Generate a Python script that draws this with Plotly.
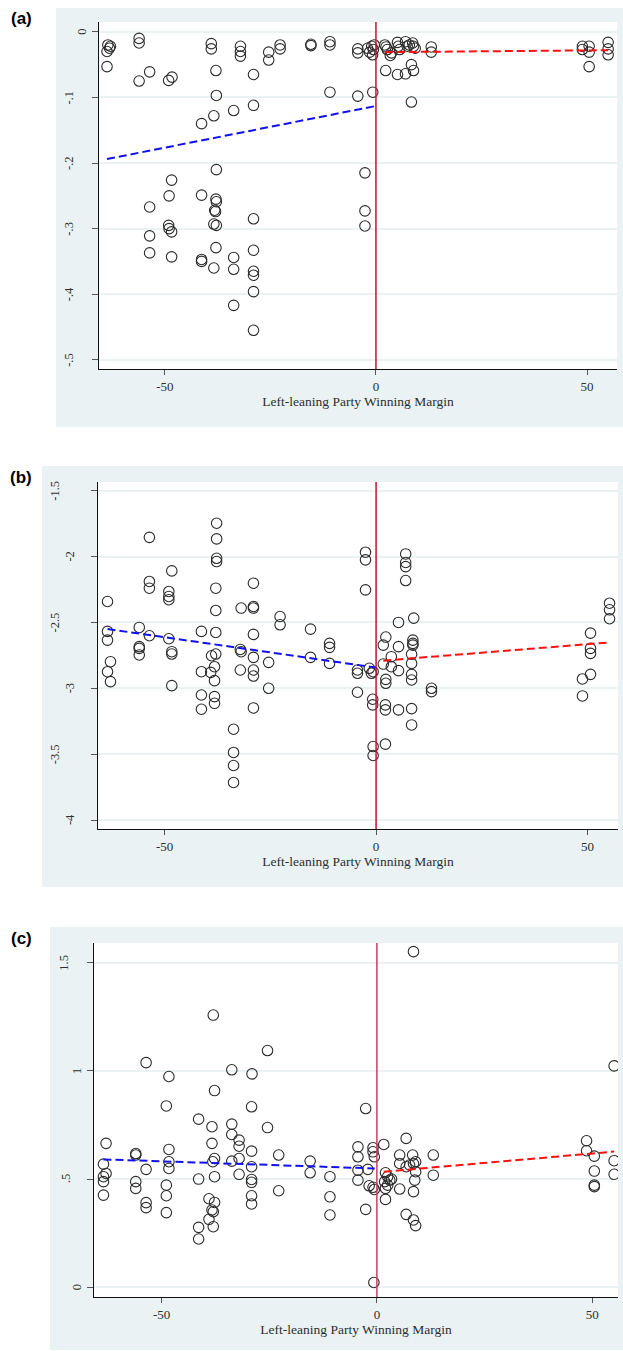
import plotly.graph_objects as go

# ---------------- data ----------------
cutoff = 0

a_x = [-63.5, -62.9, -63.7, -63.1, -63.7, -56.1, -56.1, -56.1, -53.6, -49.1, -48.3, -39.0, -39.0, -41.3,
       -37.9, -37.8, -38.4, -33.7, -32.1, -32.1, -32.1, -29.0, -29.0, -25.4, -25.4, -22.7, -22.7, -15.4,
       -15.4, -10.9, -10.9, -10.9, -4.3, -4.3, -4.3, -0.75, -2.0, -1.0, -0.6, -1.5, -0.8, -0.4,
       2.1, 2.4, 2.7, 3.7, 5.1, 5.6, 5.3, 7.0, 7.4, 7.9, 8.9, 9.3, 8.7, 2.3, 5.1, 7.0, 8.4, 8.9, 8.4, 3.4,
       13.1, 13.1, 48.9, 48.9, 50.5, 50.5, 50.5, 55.0, 55.0, 55.0,
       -37.8, -48.4, -49.0, -41.3, -37.9, -37.8, -38.2, -38.0, -53.6, -29.0, -2.6, -2.6,
       -2.6, -49.1, -49.0, -48.4, -53.6, -38.4, -37.8, -53.6, -48.4, -41.3, -41.3, -37.9, -38.4, -33.7,
       -33.7, -29.0, -29.0, -29.0, -29.0, -33.7, -29.0]
a_y = [-0.020, -0.022, -0.030, -0.025, -0.053, -0.010, -0.017, -0.075, -0.061, -0.074, -0.069, -0.018, -0.026, -0.140,
       -0.059, -0.097, -0.128, -0.120, -0.022, -0.030, -0.037, -0.065, -0.112, -0.031, -0.043, -0.020, -0.026, -0.019,
       -0.021, -0.015, -0.020, -0.092, -0.026, -0.032, -0.098, -0.092, -0.025, -0.022, -0.027, -0.031, -0.035, -0.020,
       -0.020, -0.023, -0.027, -0.032, -0.016, -0.027, -0.022, -0.015, -0.022, -0.020, -0.022, -0.025, -0.017, -0.059,
       -0.065, -0.064, -0.050, -0.059, -0.107, -0.036,
       -0.023, -0.031, -0.022, -0.027, -0.022, -0.031, -0.053, -0.016, -0.026, -0.035,
       -0.210, -0.226, -0.250, -0.249, -0.255, -0.259, -0.272, -0.274, -0.267, -0.285, -0.215, -0.273,
       -0.296, -0.295, -0.300, -0.305, -0.311, -0.293, -0.295, -0.337, -0.343, -0.347, -0.350, -0.329, -0.360, -0.344,
       -0.362, -0.333, -0.365, -0.371, -0.396, -0.417, -0.455]
a_fit_left_x = [-63.7, 0.0]
a_fit_left_y = [-0.194, -0.113]
a_fit_right_x = [2.1, 55.0]
a_fit_right_y = [-0.031, -0.028]

b_x = [-63.5, -63.5, -56.0, -53.6, -53.6, -53.6, -53.6, -48.3, -49.0, -49.0, -49.0, -49.0, -41.3, -37.7,
       -37.7, -37.7, -37.7, -37.9, -37.9, -37.9, -31.9, -29.0, -29.0, -29.0, -29.0, -22.7, -22.7, -15.5,
       -2.5, -2.5, -2.5, 7.0, 7.0, 7.0, 7.0, 8.9, 5.3, 2.3, 50.7, 55.2, 55.2, 55.2,
       -63.5, -62.8, -63.5, -62.8, -56.0, -56.0, -56.0, -48.3, -48.3, -48.3, -41.3, -41.3, -41.3, -38.9,
       -37.9, -39.1, -38.2, -38.2, -38.2, -38.2, -33.7, -33.7, -33.7, -33.7, -32.1, -31.9, -32.1, -29.0,
       -29.0, -29.0, -29.0, -25.4, -25.4, -15.5, -11.0, -11.0, -11.0, -4.4, -4.4, -4.4, -1.6, -1.1, -0.7,
       -0.8, -0.8, -0.7, -0.7, 1.7, 1.7, 2.3, 2.3, 2.2, 2.2, 2.2, 3.6, 3.6, 5.3, 5.3, 5.3, 8.7, 8.7, 8.7,
       8.4, 8.4, 8.4, 8.4, 8.4, 8.4, 13.1, 13.1, 48.8, 48.8, 50.7, 50.7, 50.7]
b_y = [-2.341, -2.568, -2.538, -1.854, -2.189, -2.240, -2.601, -2.109, -2.265, -2.303, -2.328, -2.624, -2.568, -1.747,
       -1.866, -2.013, -2.038, -2.240, -2.409, -2.576, -2.391, -2.379, -2.391, -2.202, -2.591, -2.455, -2.518, -2.551,
       -1.967, -2.025, -2.253, -1.980, -2.045, -2.076, -2.182, -2.467, -2.500, -2.611, -2.581, -2.354, -2.404, -2.472,
       -2.634, -2.798, -2.874, -2.949, -2.684, -2.697, -2.747, -2.722, -2.740, -2.980, -2.874, -3.051, -3.159, -2.753,
       -2.740, -2.879, -2.836, -2.942, -3.063, -3.114, -3.311, -3.487, -3.586, -3.715, -2.705, -2.722, -2.861, -2.765,
       -2.861, -2.907, -3.149, -2.803, -3.000, -2.765, -2.659, -2.689, -2.811, -2.861, -2.886, -3.030, -2.848, -2.886, -2.874,
       -3.083, -3.126, -3.442, -3.510, -2.672, -2.816, -2.932, -2.962, -3.126, -3.164, -3.424, -2.760, -2.836, -2.684,
       -2.866, -3.164, -2.634, -2.659, -2.672,
       -2.742, -2.811, -2.894, -2.937, -3.154, -3.278, -3.000, -3.025, -2.929, -3.058, -2.894, -2.697, -2.735]
b_fit_left_x = [-63.5, 0.0]
b_fit_left_y = [-2.550, -2.843]
b_fit_right_x = [1.7, 55.0]
b_fit_right_y = [-2.790, -2.652]

c_x = [8.5, -38.0, -25.4, -53.6, -48.3, -33.7, -29.0, -37.7, 55.1,
       -48.9, -29.1, -2.6, -41.4, -38.3, -33.7, -33.7, -25.4, -62.9, -32.0, -32.0, -38.3, -48.3, -29.1,
       -63.5, -63.5, -63.5, -63.5, -62.9, -56.0, -56.0, -56.0, -56.0, -53.6, -53.6, -53.6, -48.3, -48.3,
       -48.9, -48.9, -48.9, -41.4, -41.4, -41.4, -38.1, -37.7, -37.7, -39.0, -37.7, -38.3, -38.0, -39.0,
       -38.0, -33.7, -32.0, -32.0, -29.1, -29.1, -29.1, -29.1, -29.1, -22.8, -22.8, -15.5, -15.5, -10.9,
       -10.9, -10.9, -4.4, -4.4, -4.4, -4.4, -2.6, -2.1, -0.9, -0.9, -0.6, -1.8, -0.9, -0.6, -0.7,
       1.6, 2.0, 2.5, 3.0, 1.8, 2.5, 3.4, 2.0, 2.0, 5.3, 5.3, 5.3, 6.8, 6.8, 6.8, 7.6, 8.5, 8.3, 9.0,
       9.0, 8.8, 8.5, 8.5, 9.0, 13.1, 13.1, 48.7, 48.7, 50.5, 50.5, 50.5, 50.5, 55.1, 55.1]
c_y = [1.551, 1.258, 1.094, 1.038, 0.974, 1.005, 0.986, 0.909, 1.023,
       0.838, 0.834, 0.826, 0.777, 0.742, 0.754, 0.706, 0.738, 0.665, 0.680, 0.652, 0.665, 0.637, 0.629,
       0.569, 0.511, 0.488, 0.426, 0.526, 0.618, 0.611, 0.488, 0.457, 0.545, 0.391, 0.368, 0.580, 0.549,
       0.472, 0.423, 0.345, 0.500, 0.277, 0.223, 0.580, 0.595, 0.511, 0.409, 0.392, 0.357, 0.349, 0.314,
       0.280, 0.583, 0.595, 0.522, 0.498, 0.485, 0.423, 0.385, 0.557, 0.611, 0.446, 0.583, 0.529, 0.511,
       0.418, 0.334, 0.649, 0.603, 0.541, 0.495, 0.360, 0.545, 0.645, 0.626, 0.603, 0.469, 0.462, 0.452, 0.022,
       0.660, 0.529, 0.511, 0.495, 0.488, 0.472, 0.500, 0.457, 0.406, 0.611, 0.572, 0.454, 0.688, 0.337, 0.557,
       0.565, 0.572, 0.611, 0.580,
       0.534, 0.495, 0.442, 0.311, 0.285, 0.611, 0.518, 0.677, 0.631, 0.606, 0.537, 0.472, 0.465, 0.585, 0.522]
c_fit_left_x = [-63.5, -0.5]
c_fit_left_y = [0.591, 0.549]
c_fit_right_x = [1.6, 55.1]
c_fit_right_y = [0.534, 0.627]

x_tick_vals = [-50, 0, 50]
x_tick_text = ["-50", "0", "50"]
x_title = "Left-leaning Party Winning Margin"

a_ytick_vals = [0, -0.1, -0.2, -0.3, -0.4, -0.5]
a_ytick_text = ["0", "-.1", "-.2", "-.3", "-.4", "-.5"]
b_ytick_vals = [-1.5, -2, -2.5, -3, -3.5, -4]
b_ytick_text = ["-1.5", "-2", "-2.5", "-3", "-3.5", "-4"]
c_ytick_vals = [0, 0.5, 1, 1.5]
c_ytick_text = ["0", ".5", "1", "1.5"]

panel_labels = ["(a)", "(b)", "(c)"]

# ---------------- layout helpers ----------------
W, H = 623, 1351
def px_x(p):
    return p / W
def px_y(p):
    return 1 - p / H

BG = "#EAF2F3"
SERIF = "Liberation Serif"
TXT = "#2e2e2e"

panels = [
    dict(xs=a_x, ys=a_y, fl=(a_fit_left_x, a_fit_left_y), fr=(a_fit_right_x, a_fit_right_y),
         ytv=a_ytick_vals, ytt=a_ytick_text, label=panel_labels[0],
         plot=(99, 22, 617, 369), gray=(56, 8, 623, 427), lab=(21, 18),
         xr=[-65.6, 57.1], yr=[-0.514, 0.015], vcol="#C8102E"),
    dict(xs=b_x, ys=b_y, fl=(b_fit_left_x, b_fit_left_y), fr=(b_fit_right_x, b_fit_right_y),
         ytv=b_ytick_vals, ytt=b_ytick_text, label=panel_labels[1],
         plot=(98, 482, 618, 829), gray=(42, 466, 623, 887), lab=(21, 478),
         xr=[-65.75, 57.2], yr=[-4.068, -1.434], vcol="#C8102E"),
    dict(xs=c_x, ys=c_y, fl=(c_fit_left_x, c_fit_left_y), fr=(c_fit_right_x, c_fit_right_y),
         ytv=c_ytick_vals, ytt=c_ytick_text, label=panel_labels[2],
         plot=(94, 943, 618, 1297), gray=(50, 927, 623, 1350), lab=(21, 938),
         xr=[-65.7, 56.0], yr=[-0.045, 1.591], vcol="#CC3D62"),
]

label_offset = {1: 17, 2: 28, 3: 30, 4: 43}

fig = go.Figure()
shapes = []
annotations = []
layout_axes = {}

for i, p in enumerate(panels, start=1):
    xa = "x" if i == 1 else f"x{i}"
    ya = "y" if i == 1 else f"y{i}"
    xkey = "xaxis" if i == 1 else f"xaxis{i}"
    ykey = "yaxis" if i == 1 else f"yaxis{i}"
    l, t, r, b = p["plot"]
    gl, gt, gr, gb = p["gray"]

    shapes.append(dict(type="rect", xref="paper", yref="paper",
                       x0=px_x(gl), x1=px_x(gr), y0=px_y(gb), y1=px_y(gt),
                       fillcolor=BG, line=dict(width=0), layer="below"))
    shapes.append(dict(type="rect", xref="paper", yref="paper",
                       x0=px_x(l), x1=px_x(r), y0=px_y(b), y1=px_y(t),
                       fillcolor="white", line=dict(width=0), layer="below"))
    shapes.append(dict(type="line", xref=xa, yref=f"{ya} domain",
                       x0=cutoff, x1=cutoff, y0=0, y1=1,
                       line=dict(color=p["vcol"], width=1.5), layer="above"))

    fig.add_trace(go.Scatter(x=p["xs"], y=p["ys"], mode="markers", xaxis=xa, yaxis=ya,
                             marker=dict(symbol="circle-open", size=10.5, color="#2b2b2b",
                                         line=dict(width=1.1, color="#2b2b2b")),
                             showlegend=False, hoverinfo="skip"))
    fig.add_trace(go.Scatter(x=p["fl"][0], y=p["fl"][1], mode="lines", xaxis=xa, yaxis=ya,
                             line=dict(color="#1010F0", width=2, dash="8px,4px"),
                             showlegend=False, hoverinfo="skip"))
    fig.add_trace(go.Scatter(x=p["fr"][0], y=p["fr"][1], mode="lines", xaxis=xa, yaxis=ya,
                             line=dict(color="#FF1010", width=2, dash="8px,4px"),
                             showlegend=False, hoverinfo="skip"))

    layout_axes[xkey] = dict(
        domain=[px_x(l), px_x(r)], anchor=ya, range=p["xr"],
        tickmode="array", tickvals=x_tick_vals, ticktext=x_tick_text,
        ticks="outside", ticklen=5, tickwidth=1, tickcolor="#555",
        showline=True, linecolor="#111", linewidth=1.2, mirror=False,
        showgrid=False, zeroline=False,
        tickfont=dict(family=SERIF, size=13, color=TXT), ticklabelstandoff=0,
        title=dict(text=x_title, font=dict(family=SERIF, size=13.5, color=TXT), standoff=0),
        automargin=False, fixedrange=True)
    layout_axes[ykey] = dict(
        domain=[px_y(b), px_y(t)], anchor=xa, range=p["yr"],
        tickmode="array", tickvals=p["ytv"], ticktext=p["ytt"], showticklabels=False,
        ticks="outside", ticklen=6, tickwidth=1, tickcolor="#555",
        showline=True, linecolor="#111", linewidth=1.2,
        showgrid=True, gridcolor=BG, gridwidth=1.5, zeroline=False,
        automargin=False, fixedrange=True)

    # rotated (vertical) y tick labels, positioned on the y scale
    for v, txt in zip(p["ytv"], p["ytt"]):
        annotations.append(dict(text=txt, xref="paper", yref=ya, x=px_x(l - label_offset[len(txt)]), y=v,
                                xanchor="center", yanchor="middle", textangle=-90, showarrow=False,
                                font=dict(family=SERIF, size=12.5, color=TXT)))

    annotations.append(dict(text=f"<b>{p['label']}</b>", xref="paper", yref="paper",
                            x=px_x(p["lab"][0]), y=px_y(p["lab"][1]), xanchor="center", yanchor="middle",
                            showarrow=False, font=dict(family="Liberation Sans", size=17, color="#000")))

fig.update_layout(width=W, height=H, autosize=False, margin=dict(l=0, r=0, t=0, b=0, pad=0),
                  paper_bgcolor="white", plot_bgcolor="white",
                  shapes=shapes, annotations=annotations, **layout_axes)

fig.write_html("out.html", config={"displayModeBar": False},
               post_script="document.body.style.margin='0';document.body.style.overflow='hidden';")
